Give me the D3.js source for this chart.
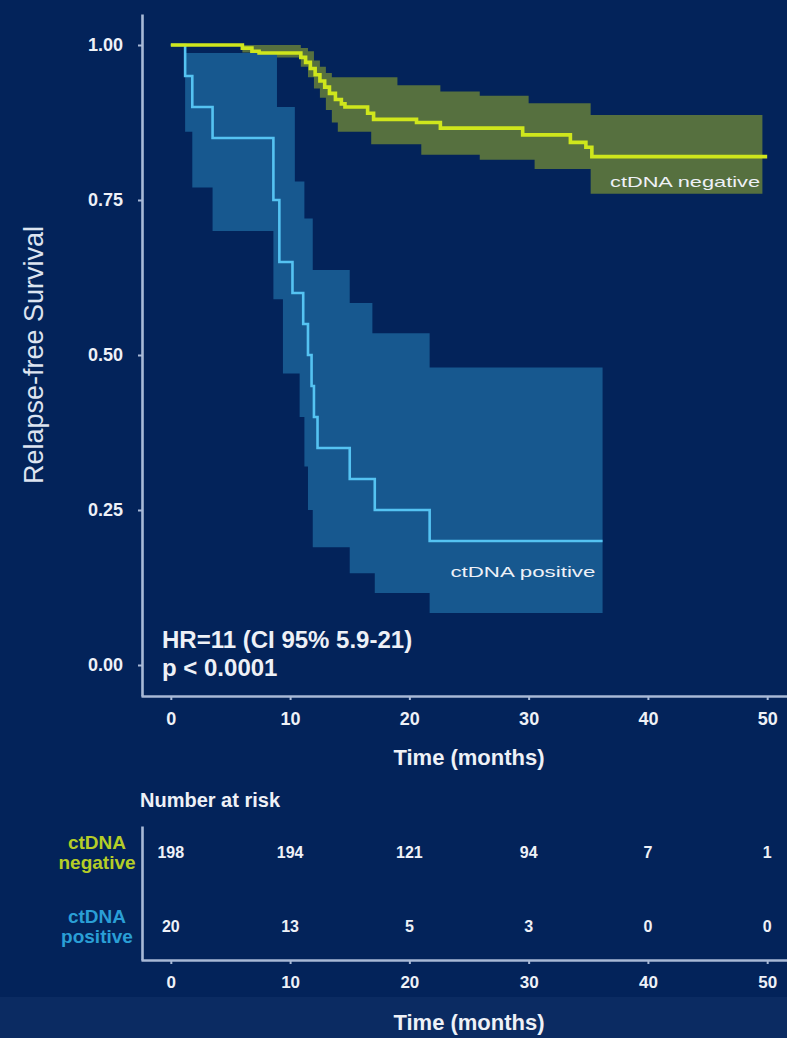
<!DOCTYPE html>
<html><head><meta charset="utf-8">
<script src="https://cdn.jsdelivr.net/npm/d3@7"></script>
<style>
html,body{margin:0;padding:0;background:#03235a;}
svg{display:block;}
text{font-family:"Liberation Sans",Arial,Helvetica,sans-serif;}
</style></head><body>
<svg id="chart" width="787" height="1038"></svg>
<script>
// Kaplan–Meier estimates (time in months, survival probability)
const negTimes = [0, 6.0, 6.8, 7.4, 10.9, 11.3, 11.7, 12.1, 12.5, 12.9, 13.3, 13.8, 14.3, 14.6, 16.5, 17.0, 20.6, 22.6, 29.5, 33.5, 34.8, 35.3, 50];
const negSurv  = [1, .995, .99, .987, .98, .972, .962, .952, .942, .932, .922, .912, .905, .90, .89, .88, .875, .866, .855, .843, .835, .82, .82];

const negBandTimes = [0, 6.0, 7.4, 10.9, 11.5, 12.0, 12.5, 13.0, 13.5, 14.0, 16.8, 19.0, 21.0, 22.6, 25.9, 30.0, 30.5, 35.2, 49.6];
const negUpper     = [1, 1, 1, .995, .99, .975, .965, .955, .948, .948, .948, .935, .935, .925, .918, .906, .906, .887, .887];
const negLower     = [1, .988, .98, .965, .948, .93, .915, .895, .875, .86, .84, .84, .823, .823, .815, .815, .80, .76, .76];

const posTimes = [0, 1.2, 1.8, 3.5, 8.6, 9.1, 10.2, 11.1, 11.5, 11.8, 12.0, 12.3, 15.0, 17.1, 21.7, 36.2];
const posSurv  = [1, .95, .90, .85, .75, .65, .60, .55, .50, .45, .40, .35, .30, .25, .20, .20];

const posBandTimes = [0, 1.2, 1.8, 3.5, 8.6, 8.9, 9.4, 10.4, 10.8, 11.2, 11.5, 11.9, 15.0, 16.9, 17.1, 21.7, 36.2];
const posUpper     = [1, .987, .987, .987, .987, .90, .90, .78, .78, .72, .72, .637, .584, .535, .535, .48, .48];
const posLower     = [1, .86, .77, .70, .59, .59, .47, .47, .40, .32, .25, .19, .148, .148, .116, .084, .084];

// Axis ticks
const timeTicks = [0, 10, 20, 30, 40, 50];
const survTicks = [0, 0.25, 0.5, 0.75, 1];

// Number at risk table
const riskGroups = ["ctDNA negative", "ctDNA positive"];
const riskNeg = [198, 194, 121, 94, 7, 1];
const riskPos = [20, 13, 5, 3, 0, 0];

const statsLines = ["HR=11 (CI 95% 5.9-21)", "p < 0.0001"];

const W = 787, H = 1038;
const BG = "#03235a", AXIS = "#a8b9d6", TXT = "#eef1f7";
const NEG = "#cfe61c", NEG_BAND = "#56703f", POS = "#55c3f2", POS_BAND = "#17588f";
const NEG_LABEL = "#b5cd27", POS_LABEL = "#2a9fd6";

const svg = d3.select("#chart");
svg.append("rect").attr("width", W).attr("height", H).attr("fill", BG);
svg.append("rect").attr("y", 997).attr("width", W).attr("height", H - 997).attr("fill", "#0b2b62");

const x = d3.scaleLinear().domain([-2.5, 52.5]).range([141, 797]);
const y = d3.scaleLinear().domain([-0.05, 1.05]).range([696, 14]);

const toRows = (t, a, b) => t.map((v, i) => ({t: v, a: a[i], b: b ? b[i] : null}));

const area = d3.area().curve(d3.curveStepAfter)
  .x(d => x(d.t)).y0(d => y(d.b)).y1(d => y(d.a));
const line = d3.line().curve(d3.curveStepAfter)
  .x(d => x(d.t)).y(d => y(d.a));

const plot = svg.append("g");
plot.append("path").datum(toRows(negBandTimes, negUpper, negLower))
  .attr("d", area).attr("fill", NEG_BAND);
plot.append("path").datum(toRows(posBandTimes, posUpper, posLower))
  .attr("d", area).attr("fill", POS_BAND);
plot.append("path").datum(toRows(posTimes, posSurv))
  .attr("d", line).attr("fill", "none").attr("stroke", POS).attr("stroke-width", 2.6);
plot.append("path").datum(toRows(negTimes, negSurv))
  .attr("d", line).attr("fill", "none").attr("stroke", NEG).attr("stroke-width", 3.6);

// Curve labels (wide, low lettering)
plot.append("text").attr("x", x(49.4)).attr("y", y(negLower[negLower.length - 1]) - 7)
  .attr("text-anchor", "end").attr("fill", TXT).attr("font-size", 15)
  .attr("textLength", 150).attr("lengthAdjust", "spacingAndGlyphs").text("ctDNA negative");
plot.append("text").attr("x", x(35.6)).attr("y", y(0.14) - 1)
  .attr("text-anchor", "end").attr("fill", TXT).attr("font-size", 15)
  .attr("textLength", 145).attr("lengthAdjust", "spacingAndGlyphs").text("ctDNA positive");

// Axes
function styleAxis(g) {
  g.select(".domain").attr("stroke", AXIS).attr("stroke-width", 2.6);
  g.selectAll(".tick line").attr("stroke", AXIS).attr("stroke-width", 2);
  g.selectAll(".tick text").attr("fill", TXT).attr("font-weight", "bold")
    .attr("font-family", '"Liberation Sans",Arial,sans-serif');
}
svg.append("g").attr("transform", "translate(142,0)")
  .call(d3.axisLeft(y).tickValues(survTicks).tickFormat(d3.format(".2f")).tickSize(4).tickPadding(15).tickSizeOuter(0))
  .call(styleAxis).call(g => g.selectAll(".tick text").attr("font-size", 18));
svg.append("g").attr("transform", "translate(0,696)")
  .call(d3.axisBottom(x).tickValues(timeTicks).tickSize(4).tickPadding(12).tickSizeOuter(0))
  .call(styleAxis).call(g => g.selectAll(".tick text").attr("font-size", 18));

svg.append("text").attr("transform", "translate(43,355) rotate(-90)")
  .attr("text-anchor", "middle").attr("fill", "#dde4f0").attr("font-size", 27)
  .text("Relapse-free Survival");
svg.append("text").attr("x", x(25)).attr("y", 765).attr("text-anchor", "middle")
  .attr("fill", TXT).attr("font-weight", "bold").attr("font-size", 22).text("Time (months)");

svg.append("g").selectAll("text").data(statsLines).join("text")
  .attr("x", 162).attr("y", (d, i) => 648 + i * 28)
  .attr("fill", TXT).attr("font-weight", "bold").attr("font-size", 24).text(d => d);

// Number at risk table
const tableY = d3.scaleLinear().domain([-0.36, 1.47]).range([826, 960]);
svg.append("text").attr("x", 140).attr("y", 807).attr("fill", TXT)
  .attr("font-weight", "bold").attr("font-size", 20).text("Number at risk");
svg.append("g").attr("transform", "translate(142,0)")
  .call(d3.axisLeft(tableY).tickValues([]).tickSizeOuter(0)).call(styleAxis);
svg.append("g").attr("transform", "translate(0,960)")
  .call(d3.axisBottom(x).tickValues(timeTicks).tickSize(4).tickPadding(12).tickSizeOuter(0))
  .call(styleAxis).call(g => g.selectAll(".tick text").attr("font-size", 17));

const rowColors = [NEG_LABEL, POS_LABEL];
riskGroups.forEach((grp, i) => {
  const words = grp.split(" ");
  const t = svg.append("text").attr("text-anchor", "middle").attr("fill", rowColors[i])
    .attr("font-weight", "bold").attr("font-size", 19);
  words.forEach((w, j) => t.append("tspan").attr("x", 97)
    .attr("y", tableY(i) - 3 + j * 20).text(w));
});
[riskNeg, riskPos].forEach((vals, i) => {
  svg.append("g").selectAll("text").data(vals).join("text")
    .attr("x", (d, j) => x(timeTicks[j])).attr("y", tableY(i) + 6)
    .attr("text-anchor", "middle").attr("fill", TXT).attr("font-weight", "bold")
    .attr("font-size", 16).text(d => d);
});
svg.append("text").attr("x", x(25)).attr("y", 1030).attr("text-anchor", "middle")
  .attr("fill", TXT).attr("font-weight", "bold").attr("font-size", 22).text("Time (months)");
</script>
</body></html>
